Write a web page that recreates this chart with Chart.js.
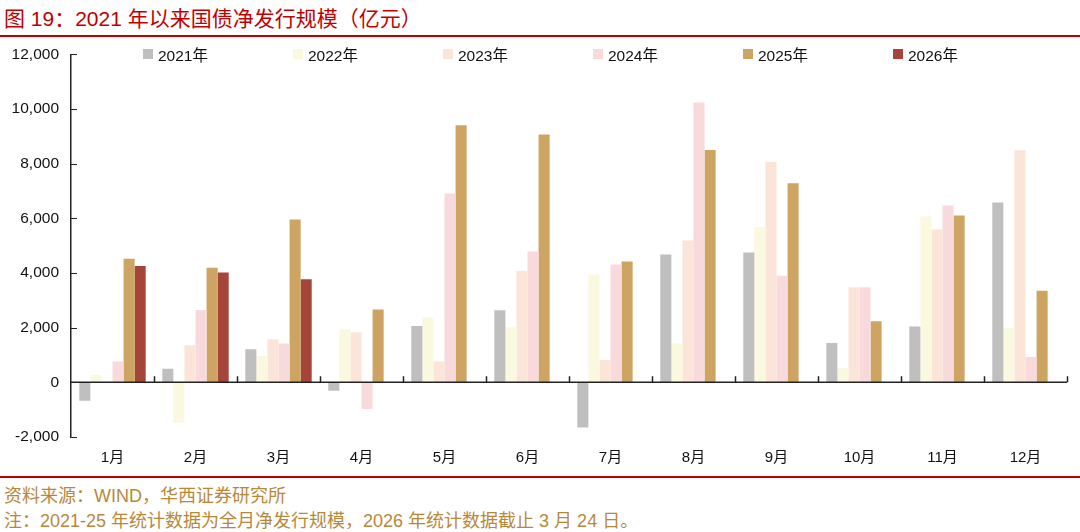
<!DOCTYPE html>
<html lang="zh">
<head>
  <meta charset="UTF-8" />
  <title>2021年以来国债净发行规模</title>
  <script src="https://cdn.jsdelivr.net/npm/chart.js"></script>
  <style>
    body { margin: 0; width: 1080px; height: 532px; background: #fff; position: relative; overflow: hidden;
           font-family: "Liberation Sans", "Noto Sans CJK SC", sans-serif; }
    .title { position: absolute; left: 4px; top: 2px; font-size: 21px; color: #C00000; }
    .rule { position: absolute; left: 0; width: 1080px; height: 2px; background: #C00000; }
    .chart-box { position: absolute; left: 0; top: 33px; width: 1080px; height: 437px; }
    .legend { position: absolute; top: 43px; left: 143px; display: flex; font-size: 15.5px; color: #111; }
    .legend div { width: 150px; display: flex; align-items: center; }
    .legend span { display: inline-block; width: 10px; height: 10px; margin-right: 5px; }
    .src { position: absolute; left: 4px; font-size: 18px; color: #B8883A; }
  </style>
</head>
<body>
  <div class="title">图 19：2021 年以来国债净发行规模（亿元）</div>

  <div class="chart-box"><canvas id="bondChart"></canvas></div>
  <div class="rule" style="top:35px"></div>
  <div class="legend" id="legend"></div>

  <div class="rule" style="top:476px"></div>
  <div class="src" style="top:481px">资料来源：WIND，华西证券研究所</div>
  <div class="src" style="top:506px">注：2021-25 年统计数据为全月净发行规模，2026 年统计数据截止 3 月 24 日。</div>

  <script>
    const months = ['1月', '2月', '3月', '4月', '5月', '6月', '7月', '8月', '9月', '10月', '11月', '12月'];
    const years = ['2021年', '2022年', '2023年', '2024年', '2025年', '2026年'];
    const colors = ['#BFBFBF', '#FBF8E0', '#FBE5D8', '#F9DADC', '#CDA462', '#A5453A'];

    const y2021 = [-670, 500, 1210, -305, 2065, 2640, -1650, 4680, 4750, 1440, 2040, 6580];
    const y2022 = [270, -1465, 965, 1930, 2380, 2015, 3945, 1420, 5680, 525, 6070, 2000];
    const y2023 = [0, 1355, 1575, 1830, 760, 4070, 820, 5190, 8070, 3480, 5595, 8490];
    const y2024 = [760, 2650, 1420, -975, 6910, 4790, 4310, 10235, 3895, 3480, 6470, 930];
    const y2025 = [4520, 4190, 5960, 2660, 9400, 9070, 4420, 8500, 7280, 2235, 6105, 3350];
    const y2026 = [4260, 4020, 3775, null, null, null, null, null, null, null, null, null];
    const series = [y2021, y2022, y2023, y2024, y2025, y2026];

    // legend as html so it can sit inside the plot area like the original
    const legendEl = document.getElementById('legend');
    years.forEach((y, i) => {
      const item = document.createElement('div');
      item.innerHTML = '<span style="background:' + colors[i] + '"></span>' + y;
      legendEl.appendChild(item);
    });

    // zero line with small upward ticks at month boundaries, and inward y ticks
    const axisMarks = {
      id: 'axisMarks',
      afterDatasetsDraw(chart) {
        const { ctx, chartArea, scales } = chart;
        const x = scales.x, y = scales.y;
        const y0 = y.getPixelForValue(0);
        ctx.save();
        ctx.strokeStyle = '#222';
        ctx.lineWidth = 1.5;
        ctx.beginPath();
        ctx.moveTo(chartArea.left, y0);
        ctx.lineTo(chartArea.right, y0);
        for (let i = 1; i <= months.length; i++) {
          const px = Math.round(x.getPixelForValue(i - 0.5)) + 0.5;
          ctx.moveTo(px, y0);
          ctx.lineTo(px, y0 - 6);
        }
        ctx.stroke();
        ctx.lineWidth = 1;
        ctx.beginPath();
        y.ticks.forEach(t => {
          const py = Math.round(y.getPixelForValue(t.value)) + 0.5;
          ctx.moveTo(chartArea.left, py);
          ctx.lineTo(chartArea.left + 6, py);
        });
        ctx.stroke();
        ctx.restore();
      }
    };

    const ctx = document.getElementById('bondChart').getContext('2d');
    new Chart(ctx, {
      type: 'bar',
      data: {
        labels: months,
        datasets: years.map((y, i) => ({
          label: y,
          data: series[i],
          backgroundColor: colors[i],
          borderWidth: 0,
          categoryPercentage: 0.8,
          barPercentage: 1.0
        }))
      },
      options: {
        responsive: true,
        maintainAspectRatio: false,
        animation: false,
        layout: { padding: { top: 11, right: 13, left: 0, bottom: 0 } },
        plugins: { legend: { display: false }, tooltip: { enabled: false } },
        scales: {
          x: {
            grid: { display: false, drawTicks: false },
            border: { display: false },
            ticks: { padding: 12, color: '#111', font: { size: 15, family: '"Liberation Sans", "Noto Sans CJK SC"' } },
            afterFit(scale) { scale.height = 33; }
          },
          y: {
            min: -2000,
            max: 12000,
            grid: { display: false, drawTicks: false },
            border: { display: true, color: '#222', width: 1.5 },
            ticks: {
              stepSize: 2000,
              padding: 12,
              color: '#111',
              font: { size: 15.5, family: '"Liberation Sans", "Noto Sans CJK SC"' },
              callback: v => v.toLocaleString('en-US')
            },
            afterFit(scale) { scale.width = 71; }
          }
        }
      },
      plugins: [axisMarks]
    });
  </script>
</body>
</html>
